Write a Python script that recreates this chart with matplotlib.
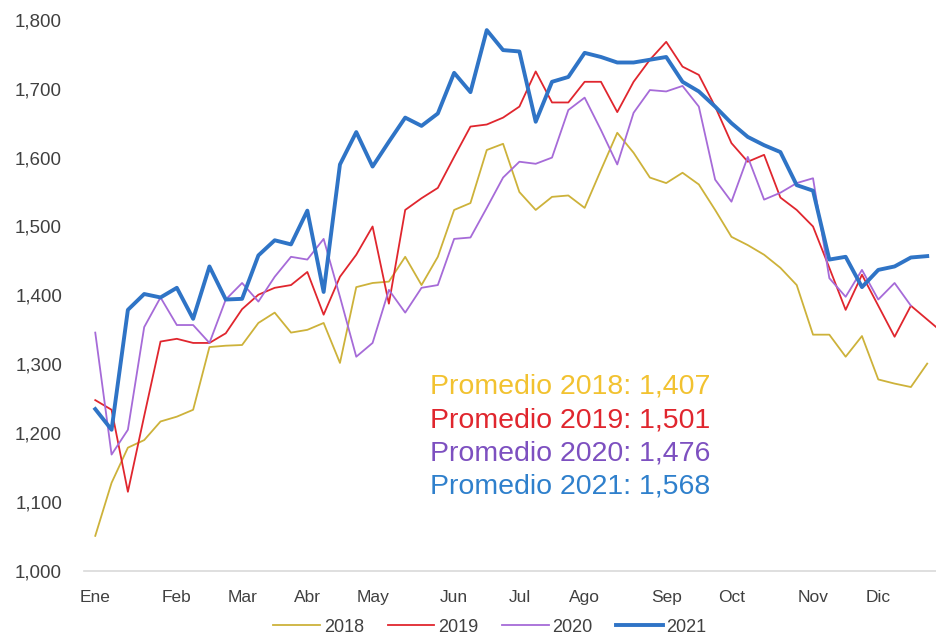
import numpy as np
import matplotlib
matplotlib.use("Agg")
import matplotlib.pyplot as plt
from matplotlib.ticker import FuncFormatter

plt.rcParams['font.family'] = ['Liberation Sans', 'DejaVu Sans']

# weekly values
y2018 = [1051, 1128, 1179, 1190, 1217, 1224, 1234, 1325, 1327, 1328,
         1360, 1375, 1346, 1350, 1360, 1302, 1412, 1418, 1420, 1456,
         1415, 1456, 1524, 1534, 1611, 1620, 1550, 1524, 1543, 1545,
         1527, 1582, 1636, 1607, 1571, 1563, 1578, 1561, 1524, 1485,
         1473, 1459, 1440, 1415, 1343, 1343, 1311, 1341, 1278, 1272,
         1267, 1301]
y2019 = [1248, 1234, 1115, 1225, 1333, 1337, 1331, 1331, 1345, 1380,
         1401, 1411, 1415, 1434, 1372, 1427, 1459, 1500, 1388, 1524,
         1541, 1556, 1601, 1645, 1648, 1658, 1674, 1725, 1680, 1680,
         1710, 1710, 1666, 1710, 1742, 1768, 1732, 1720, 1674, 1621,
         1594, 1604, 1542, 1524, 1500, 1440, 1379, 1430, 1385, 1340,
         1385, 1365, 1345]
y2020 = [1346, 1169, 1205, 1354, 1397, 1357, 1357, 1331, 1394, 1418,
         1391, 1427, 1456, 1452, 1482, 1398, 1311, 1331, 1408, 1375,
         1411, 1415, 1482, 1484, 1527, 1571, 1594, 1591, 1600, 1669,
         1687, 1640, 1590, 1665, 1698, 1696, 1704, 1674, 1568, 1536,
         1601, 1539, 1549, 1563, 1570, 1425, 1398, 1437, 1394, 1418,
         1385]
y2021 = [1235, 1205, 1379, 1402, 1397, 1411, 1366, 1442, 1394, 1395,
         1458, 1480, 1474, 1523, 1405, 1590, 1637, 1587, 1623, 1658,
         1646, 1664, 1723, 1695, 1785, 1756, 1754, 1652, 1710, 1717,
         1752, 1746, 1738, 1738, 1742, 1746, 1710, 1696, 1674, 1650,
         1630, 1618, 1608, 1560, 1552, 1452, 1456, 1412, 1437, 1442,
         1455, 1457]

month_labels = ['Ene', 'Feb', 'Mar', 'Abr', 'May', 'Jun', 'Jul', 'Ago',
                'Sep', 'Oct', 'Nov', 'Dic']
month_weeks = [0, 5, 9, 13, 17, 22, 26, 30, 35, 39, 44, 48]

promedios = ['Promedio 2018: 1,407', 'Promedio 2019: 1,501',
             'Promedio 2020: 1,476', 'Promedio 2021: 1,568']

c2018 = '#CDB23A'
c2019 = '#E0262E'
c2020 = '#A66BD8'
c2021 = '#2F74C6'
text_colors = ['#F2C230', '#E0262E', '#7D50C0', '#2F80CC']

fig = plt.figure(figsize=(9.37, 6.38), dpi=100)
ax = fig.add_axes([0.09, 0.105, 0.91, 0.864])

ax.plot(np.arange(len(y2018)), y2018, color=c2018, lw=1.3, label='2018')
ax.plot(np.arange(len(y2019)), y2019, color=c2019, lw=1.3, label='2019')
ax.plot(np.arange(len(y2020)), y2020, color=c2020, lw=1.3, label='2020')
ax.plot(np.arange(len(y2021)), y2021, color=c2021, lw=2.8, label='2021')

ax.set_ylim(1000, 1800)
ax.set_xlim(-0.67, 51.6)
ax.set_yticks(np.arange(1000, 1801, 100))
ax.yaxis.set_major_formatter(FuncFormatter(lambda v, p: f'{int(v):,}'))
ax.set_xticks(month_weeks)
ax.set_xticklabels(month_labels)
ax.tick_params(axis='y', length=0, pad=16, labelsize=13.5, labelcolor='#404040')
ax.tick_params(axis='x', length=0, pad=14, labelsize=12.5, labelcolor='#404040')

for s in ['top', 'right', 'left']:
    ax.spines[s].set_visible(False)
ax.spines['bottom'].set_color('#D9D9D9')
ax.spines['bottom'].set_linewidth(1.2)

text_y = [1268, 1219, 1171, 1122]
for label, ty, tc in zip(promedios, text_y, text_colors):
    ax.text(20.5, ty, label, color=tc, fontsize=20.5, va='center', ha='left')

fig.legend(loc='lower center', bbox_to_anchor=(0.523, -0.022), ncol=4,
           frameon=False, fontsize=13, handlelength=2.6, columnspacing=1.3,
           handletextpad=0.2, labelcolor='#404040')

fig.savefig('out.png', dpi=100)
